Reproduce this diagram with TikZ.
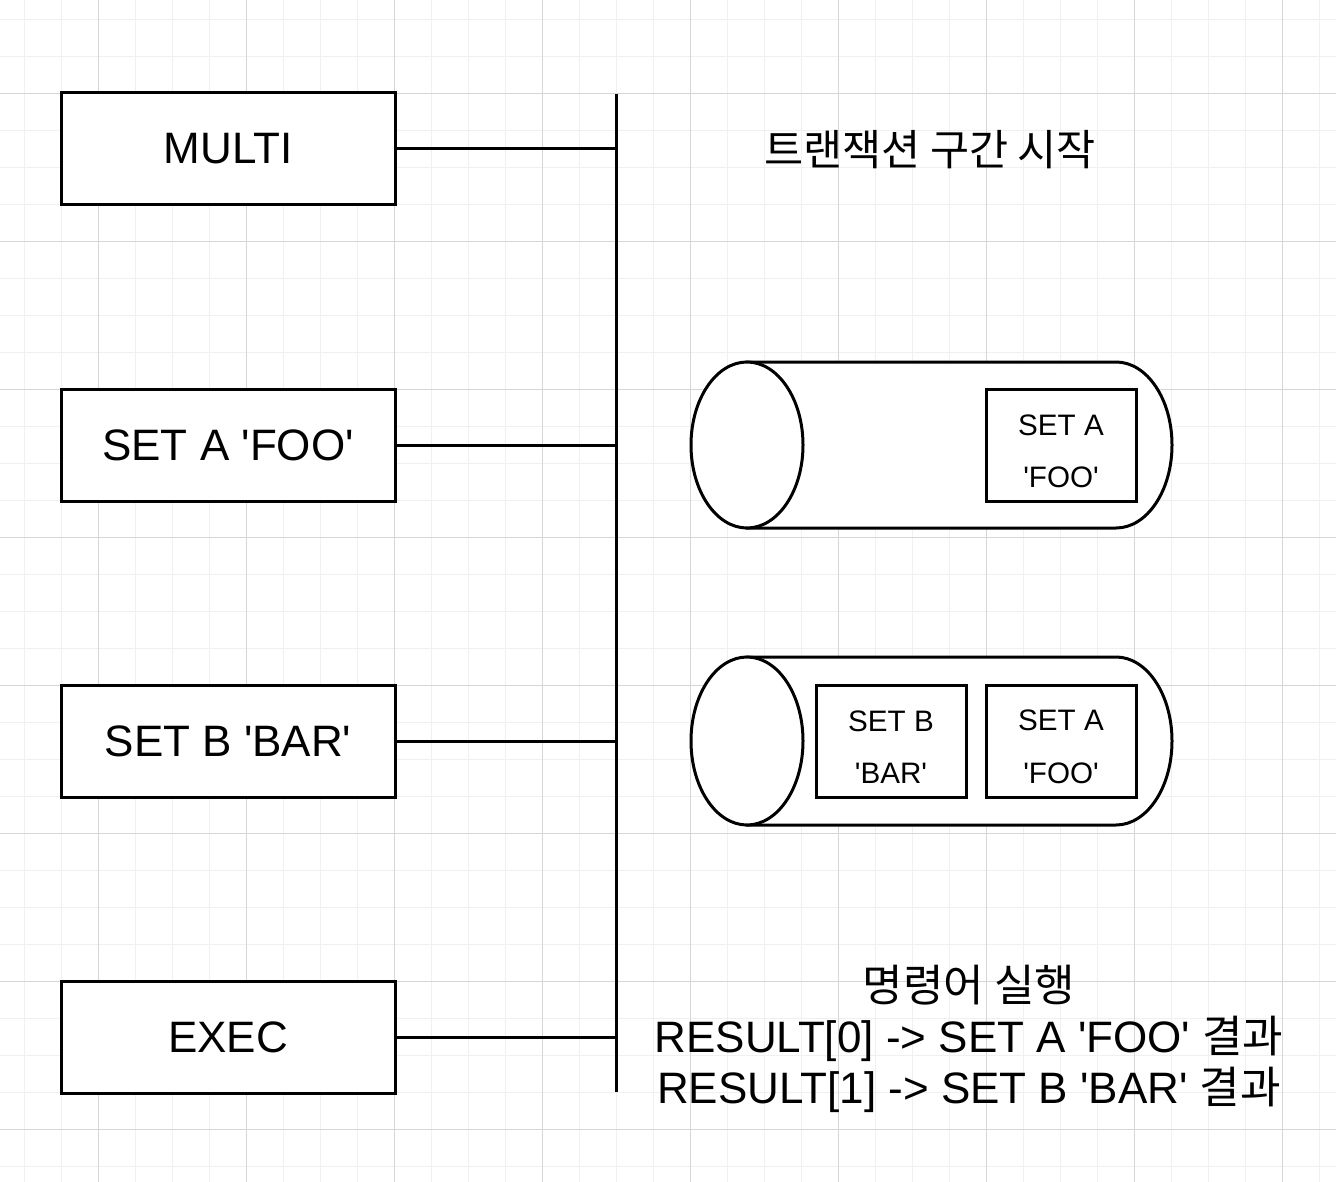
\documentclass[tikz,border=0pt]{standalone}
\usepackage{fontspec}
\setmainfont{Liberation Sans}[Ligatures=TeXOff]
\newfontfamily\kr{Noto Sans CJK KR}
\definecolor{gridminor}{HTML}{F0F0F0}
\definecolor{gridmajor}{HTML}{D6D6D6}
\tikzset{
  minorline/.style={draw=gridminor, line width=1.5pt},
  majorline/.style={draw=gridmajor, line width=1.5pt},
  cmdbox/.style={draw, line width=3pt, fill=white, minimum width=334pt, minimum height=112pt, inner sep=0pt,
    font=\fontsize{44}{52}\selectfont},
  inbox/.style={draw, line width=3pt, fill=white, minimum width=150pt, minimum height=112pt, inner sep=0pt},
  intext/.style={align=center, inner sep=0pt, font=\fontsize{29.6}{52.5}\selectfont},
  wire/.style={line width=3pt},
  cyl/.style={line width=3pt, fill=white},
  note/.style={align=center, inner sep=0pt, font=\fontsize{44}{51}\selectfont}
}
\begin{document}
\begin{tikzpicture}[x=1pt,y=-1pt]
\useasboundingbox (0,0) rectangle (1336,1182);
\fill[white] (0,0) rectangle (1336,1182);
% grid
\foreach \i in {0,...,35} \draw[minorline] ({24.67+37*\i},0) -- ({24.67+37*\i},1182);
\foreach \i in {0,...,31} \draw[minorline] (0,{19.33+37*\i}) -- (1336,{19.33+37*\i});
\foreach \i in {0,...,8} \draw[majorline] ({98.67+148*\i},0) -- ({98.67+148*\i},1182);
\foreach \i in {0,...,7} \draw[majorline] (0,{93.33+148*\i}) -- (1336,{93.33+148*\i});

% command boxes
\node[cmdbox] (multi) at (228,149) {MULTI};
\node[cmdbox] (seta) at (228,445.5) {SET A 'FOO'};
\node[cmdbox] (setb) at (228,741.5) {SET B 'BAR'};
\node[cmdbox] (exec) at (228,1037.5) {EXEC};

% bus
\coordinate (bustop) at (616,94);
\coordinate (busbot) at (616,1092);
\draw[wire] (bustop) -- (busbot);
\foreach \n in {multi,seta,setb,exec} \draw[wire] (\n.east) -- (\n.east -| bustop);

% top note
\node[note, font=\fontsize{42.5}{51}\selectfont] (start) at (930,150) {\kr 트랜잭션 구간 시작};

% cylinder 1
\coordinate (c1l) at (747,445);
\coordinate (c1r) at (1116,445);
\draw[cyl] (747,362) -- (1116,362) arc[start angle=-90, end angle=90, x radius=56, y radius=83] -- (747,528) -- cycle;
\draw[cyl] (c1l) ellipse[x radius=56, y radius=83];
\node[inbox] (qa1) at (1061,445.5) {};
\node[intext] at ([yshift=-6pt]qa1.center) {SET A\\'FOO'};

% cylinder 2
\coordinate (c2l) at (747,741);
\coordinate (c2r) at (1116,741);
\draw[cyl] (747,657) -- (1116,657) arc[start angle=-90, end angle=90, x radius=56, y radius=84] -- (747,825) -- cycle;
\draw[cyl] (c2l) ellipse[x radius=56, y radius=84];
\node[inbox] (qb2) at (891,741) {};
\node[intext] at ([yshift=-6pt]qb2.center) {SET B\\'BAR'};
\node[inbox] (qa2) at (1061,741) {};
\node[intext] at ([yshift=-6pt]qa2.center) {SET A\\'FOO'};

% bottom note
\node[note] (result) at (969,1039) {{\kr 명령어 실행}\\RESULT[0] -> SET A 'FOO' {\kr 결과}\\RESULT[1] -> SET B 'BAR' {\kr 결과}};
\end{tikzpicture}
\end{document}
